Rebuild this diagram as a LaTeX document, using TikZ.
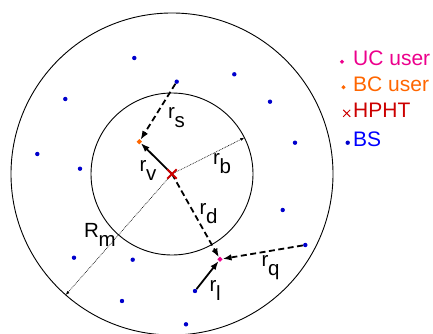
\documentclass[tikz,border=0pt]{standalone}
\usepackage{fontspec}
\setmainfont{Liberation Sans}
\usetikzlibrary{arrows.meta,shapes.geometric,shapes.misc}
\definecolor{ucpink}{RGB}{236,0,140}
\definecolor{bcorange}{RGB}{255,102,0}
\definecolor{hphtred}{RGB}{204,0,0}
\definecolor{bsblue}{RGB}{0,0,255}
\newcommand{\lbl}[2]{#1\kern-0.3pt\raisebox{-9pt}{#2}}
\begin{document}
\begin{tikzpicture}[x=1pt,y=-1pt,
  bs/.style={circle,fill=bsblue!80!black,inner sep=0pt,minimum size=4.4pt},
  ucuser/.style={diamond,fill=ucpink,inner sep=0pt,minimum size=5.5pt},
  bcuser/.style={diamond,fill=bcorange,inner sep=0pt,minimum size=5.5pt},
  hpht/.style={cross out,draw=hphtred,line width=1.8pt,inner sep=0pt,minimum size=7.5pt},
  ring/.style={draw=black,line width=0.9pt},
  dasharrow/.style={line width=1.8pt,dash pattern=on 6pt off 3.5pt,-{Latex[length=9pt,width=6.5pt]}},
  solidarrow/.style={line width=1.8pt,-{Latex[length=9pt,width=6.5pt]}},
  dotarrow/.style={line width=0.6pt,dash pattern=on 0.8pt off 0.9pt,-{Latex[length=4pt,width=3pt]}},
  lab/.style={font=\fontsize{20.5}{22}\selectfont,inner sep=0pt,anchor=north west},
  legtext/.style={font=\fontsize{21}{23}\selectfont,inner sep=0pt,anchor=base west}
]
\useasboundingbox (0,0) rectangle (433,334);
\coordinate (C) at (172,174);
\draw[ring] (C) circle[radius=161];
\draw[ring] (C) circle[radius=81];
% base stations
\node[bs] (b1) at (134.3,58) {};
\node[bs] (b2) at (234.3,74.3) {};
\node[bs] (b3) at (176.7,81.7) {};
\node[bs] (b4) at (65.3,99) {};
\node[bs] (b5) at (270,101.7) {};
\node[bs] (b6) at (295,142.7) {};
\node[bs] (b7) at (37.3,154) {};
\node[bs] (b8) at (80,168.7) {};
\node[bs] (b9) at (282.7,210) {};
\node[bs] (b10) at (305.3,245) {};
\node[bs] (b11) at (74,257.7) {};
\node[bs] (b12) at (132.7,259.7) {};
\node[bs] (b13) at (195,291) {};
\node[bs] (b14) at (122,301) {};
\node[bs] (b15) at (186,324.3) {};
% users and HPHT
\node[bcuser] (bc) at (139.3,141.7) {};
\node[ucuser] (uc) at (220,259.3) {};
\coordinate (rbend) at (244.4,137.7);
\coordinate (rmend) at (65.7,295);
\draw[dotarrow] (C) -- (rbend);
\draw[dotarrow] (C) -- (rmend);
\draw[dasharrow] (b3) -- (bc);
\draw[solidarrow] (C) -- (bc);
\draw[dasharrow] (C) -- (uc);
\draw[dasharrow] (b10) -- (uc);
\draw[solidarrow] (b13) -- (uc);
\node[hpht] (h) at (C) {};
% labels
\node[lab] (ls) at (168,107.7) {\lbl{r}{s}};
\node[lab] (lv) at (139.5,160) {\lbl{r}{v}};
\node[lab] (lb) at (213,153.3) {\lbl{r}{b}};
\node[lab] (ld) at (199.5,203.3) {\lbl{r}{d}};
\node[lab] (lm) at (84,223.3) {\lbl{R}{m}};
\node[lab] (lq) at (261.5,255) {\lbl{r}{q}};
\node[lab] (ll) at (209.5,280) {\lbl{r}{l}};
% legend
\node[ucuser,minimum size=4.5pt] (k1) at (342,61.7) {};
\node[legtext,text=ucpink] (t1) at (353,65.7) {UC user};
\node[bcuser,minimum size=4.5pt] (k2) at (343.5,87.3) {};
\node[legtext,text=bcorange] (t2) at (353,91.5) {BC user};
\node[cross out,draw=hphtred,line width=1pt,inner sep=0pt,minimum size=6pt] (k3) at (346.7,113.3) {};
\node[legtext,text=hphtred] (t3) at (353,117.3) {HPHT};
\node[bs] (k4) at (347.7,142.7) {};
\node[legtext,text=bsblue] (t4) at (353,146.7) {BS};
\end{tikzpicture}
\end{document}
